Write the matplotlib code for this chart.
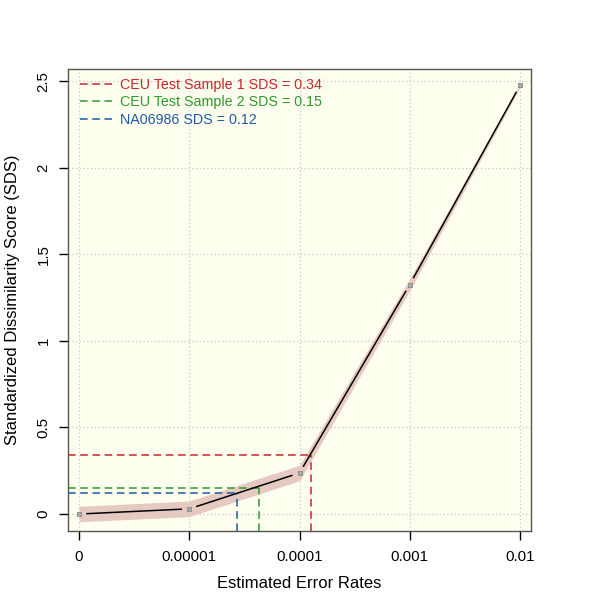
"""
SDS vs estimated error rate
"""

import numpy as np
import matplotlib
matplotlib.use("Agg")
import matplotlib.pyplot as plt

plt.rcParams['font.family'] = ['Liberation Sans', 'DejaVu Sans']

# --- data ---
error_labels = ['0', '0.00001', '0.0001', '0.001', '0.01']
sds_values = [0.0, 0.03, 0.237, 1.325, 2.475]
band_half = [0.045, 0.045, 0.045, 0.035, 0.012]

ref_names = ['CEU Test Sample 1 SDS = 0.34',
             'CEU Test Sample 2 SDS = 0.15',
             'NA06986 SDS = 0.12']
ref_sds = [0.34, 0.15, 0.12]
ref_cross = [2.1, 1.63, 1.43]   # where each sample meets the curve (axis index)
ref_colors = ['#c8262a', '#2e9a2a', '#1f5aa6']

y_ticks = [0, 0.5, 1, 1.5, 2, 2.5]
y_tick_labels = ['0', '0.5', '1', '1.5', '2', '2.5']

fig = plt.figure(figsize=(6, 6), dpi=100)
ax = fig.add_axes([68 / 600, 69 / 600, 463 / 600, 462 / 600])
ax.set_facecolor('#fffff0')

xs = np.arange(len(sds_values))
ax.set_xlim(-0.1, 4.1)
ax.set_ylim(-0.098, 2.57)

# grid
for x in xs:
    ax.axvline(x, color='#c8c8c8', lw=0.9, ls=(0, (1, 2)), zorder=0)
for y in y_ticks:
    ax.axhline(y, color='#c8c8c8', lw=0.9, ls=(0, (1, 2)), zorder=0)

# shaded band
lo = np.array(sds_values) - np.array(band_half)
hi = np.array(sds_values) + np.array(band_half)
ax.fill_between(xs, lo, hi, color='#e6cac2', lw=0, zorder=1)

# line with gaps around points (R type="b")
trans = ax.transData
pts = trans.transform(np.column_stack([xs, sds_values]))
gap = 8
for i in range(len(pts) - 1):
    p0, p1 = pts[i], pts[i + 1]
    d = p1 - p0
    u = d / np.hypot(*d)
    a = trans.inverted().transform(p0 + u * gap)
    b = trans.inverted().transform(p1 - u * gap)
    ax.plot([a[0], b[0]], [a[1], b[1]], color='black', lw=1.1, zorder=3)
ax.plot(xs, sds_values, ls='none', marker='s', ms=3.5, mfc='#d8d8d8',
        mec='#888888', mew=0.6, zorder=4)
ax.plot(xs, sds_values, ls='none', marker='x', ms=2.5, mec='#888888',
        mew=0.5, zorder=5)

# reference lines
handles = []
for name, s, cx, c in zip(ref_names, ref_sds, ref_cross, ref_colors):
    h, = ax.plot([-0.1, cx], [s, s], color=c, lw=1.1, ls=(0, (5, 3)), zorder=2,
                 label=name)
    ax.plot([cx, cx], [-0.098, s], color=c, lw=1.1, ls=(0, (5, 3)), zorder=2)
    handles.append(h)

leg = ax.legend(handles=handles, loc='upper left', frameon=False, fontsize=10.3,
                handlelength=2.2, handletextpad=0.55, labelspacing=0.25,
                borderaxespad=0.3, bbox_to_anchor=(0.005, 1.003))
for t, c in zip(leg.get_texts(), ref_colors):
    t.set_color(c)

ax.set_xticks(xs)
ax.set_xticklabels(error_labels, fontsize=10.8)
ax.set_yticks(y_ticks)
ax.set_yticklabels(y_tick_labels, fontsize=10.8, rotation=90, va='center')
ax.tick_params(axis='both', length=6.5, width=1, color='black')
ax.tick_params(axis='x', pad=7)
ax.tick_params(axis='y', pad=6)
for sp in ax.spines.values():
    sp.set_color('#555555')
    sp.set_linewidth(1)

ax.set_xlabel('Estimated Error Rates', fontsize=12, labelpad=9)
ax.set_ylabel('Standardized Dissimilarity Score (SDS)', fontsize=12, labelpad=12)

plt.savefig('out.png', dpi=100)
